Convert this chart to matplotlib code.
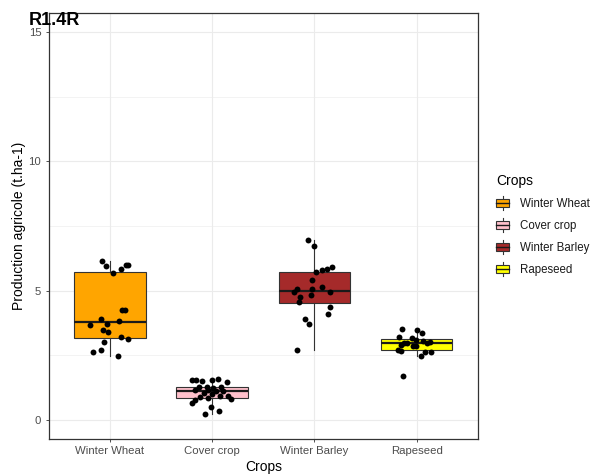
import matplotlib
matplotlib.use("Agg")
import matplotlib.pyplot as plt
from matplotlib.patches import Rectangle
from matplotlib.lines import Line2D
from matplotlib.legend_handler import HandlerBase
import numpy as np

plt.rcParams['font.family'] = ['Liberation Sans', 'DejaVu Sans']

categories = ["Winter Wheat", "Cover crop", "Winter Barley", "Rapeseed"]
colors = ["#FFA500", "#FFC0CB", "#A52A2A", "#FFFF00"]

wheat_values = [6.14, 5.97, 5.69, 5.85, 5.99, 5.99, 4.24, 4.24, 3.88, 3.81,
                3.67, 3.72, 3.48, 3.41, 3.19, 3.14, 3.01, 2.71, 2.61, 2.48]
wheat_jitter = [-0.08, -0.04, 0.03, 0.11, 0.16, 0.18, 0.12, 0.15, -0.09, 0.09,
                -0.19, -0.03, -0.07, -0.02, 0.11, 0.18, -0.06, -0.09, -0.16, 0.08]

cover_values = [1.55, 1.52, 1.48, 1.52, 1.59, 1.45, 1.28, 1.28, 1.25, 1.23,
                1.16, 1.16, 1.10, 1.10, 1.03, 0.99, 0.90, 0.90, 0.80, 0.88,
                0.84, 0.75, 0.65, 0.48, 0.35, 0.22]
cover_jitter = [-0.20, -0.16, -0.10, 0.00, 0.06, 0.15, -0.13, -0.05, 0.09, 0.01,
                -0.17, -0.04, 0.04, 0.11, -0.08, 0.00, 0.16, 0.08, 0.18, -0.12,
                -0.04, -0.17, -0.20, -0.01, 0.07, -0.07]

barley_values = [6.95, 6.74, 5.71, 5.79, 5.84, 5.92, 5.39, 5.07, 5.07, 5.14,
                 4.93, 4.93, 4.74, 4.83, 4.55, 4.35, 4.10, 3.88, 3.72, 2.71]
barley_jitter = [-0.06, 0.00, 0.02, 0.07, 0.12, 0.17, -0.02, -0.17, -0.02, 0.07,
                 -0.20, 0.15, -0.14, -0.03, -0.15, 0.15, 0.13, -0.09, -0.05, -0.17]

rape_values = [3.52, 3.49, 3.36, 3.21, 3.17, 3.10, 2.97, 2.91, 2.95, 3.04,
               2.97, 2.99, 2.84, 2.84, 2.69, 2.65, 2.61, 2.61, 2.48, 1.68]
rape_jitter = [-0.14, 0.00, 0.05, -0.17, -0.05, -0.01, -0.12, -0.15, -0.09, 0.06,
               0.10, 0.13, -0.04, -0.01, -0.18, -0.15, 0.08, 0.14, 0.04, -0.13]

all_values = [wheat_values, cover_values, barley_values, rape_values]
all_jitter = [wheat_jitter, cover_jitter, barley_jitter, rape_jitter]

y_ticks = [0, 5, 10, 15]

W, H = 593, 476
fig = plt.figure(figsize=(W / 100, H / 100), dpi=100)
ax = fig.add_axes([48.5 / W, 1 - 439 / H, (478 - 48.5) / W, (439 - 13) / H])

positions = np.arange(1, len(categories) + 1)
edge = "#333333"
bp = ax.boxplot(all_values, positions=positions, widths=0.7, patch_artist=True,
                showfliers=False, whis=1.5, zorder=2,
                boxprops=dict(edgecolor=edge, linewidth=0.8),
                whiskerprops=dict(color=edge, linewidth=0.8),
                capprops=dict(linewidth=0),
                medianprops=dict(color="#1a1a1a", linewidth=1.6))
for patch, c in zip(bp['boxes'], colors):
    patch.set_facecolor(c)

for pos, vals, jit in zip(positions, all_values, all_jitter):
    ax.scatter(pos + np.array(jit), vals, s=18, color="black", zorder=3, linewidths=0)

ax.set_xlim(0.4, len(categories) + 0.6)
ax.set_ylim(-0.75, 15.75)
ax.set_xticks(positions)
ax.set_xticklabels(categories)
ax.set_yticks(y_ticks)
ax.set_yticks([2.5, 7.5, 12.5], minor=True)
ax.grid(True, which='major', color="#EBEBEB", linewidth=0.8, zorder=0)
ax.grid(True, which='minor', axis='y', color="#EBEBEB", linewidth=0.4, zorder=0)
ax.set_axisbelow(True)
ax.tick_params(axis='both', which='major', length=2.2, width=0.6, color="#333333",
               labelcolor="#4D4D4D", labelsize=8.2, pad=3.0)
ax.tick_params(axis='y', which='minor', length=0)
for sp in ax.spines.values():
    sp.set_color("#333333")
    sp.set_linewidth(0.9)

fig.text(19 / W, 1 - 226 / H, "Production agricole (t.ha-1)", rotation=90,
         ha='center', va='center', fontsize=10)
fig.text((48.5 + 478) / 2 / W, 1 - 467 / H, "Crops", ha='center', va='center', fontsize=10)
fig.text(29 / W, 1 - 12 / H, "R1.4R", ha='left', va='top', fontsize=13, fontweight='bold')


class BoxHandler(HandlerBase):
    def create_artists(self, legend, orig_handle, xdescent, ydescent, width, height,
                       fontsize, trans):
        fc = orig_handle.get_facecolor()
        x0 = -xdescent
        y0 = -ydescent
        cx = x0 + width / 2
        wl = Line2D([cx, cx], [y0, y0 + height], color=edge, lw=0.8, transform=trans)
        rect = Rectangle((x0, y0 + height * 0.22), width, height * 0.56, facecolor=fc,
                         edgecolor=edge, lw=0.8, transform=trans)
        med = Line2D([x0, x0 + width], [y0 + height / 2] * 2, color="#1a1a1a", lw=1.0,
                     transform=trans)
        return [wl, rect, med]


handles = [Rectangle((0, 0), 1, 1, facecolor=c) for c in colors]
leg = fig.legend(handles, categories, loc='center left',
                 bbox_to_anchor=(496 / W, 1 - 225 / H), frameon=False,
                 title="Crops", title_fontsize=10, fontsize=8.3,
                 handler_map={Rectangle: BoxHandler()},
                 handlelength=1.15, handleheight=1.5, labelspacing=0.68,
                 handletextpad=0.9, borderpad=0, borderaxespad=0, alignment='left')
for t in leg.get_texts():
    t.set_color("#1a1a1a")

fig.savefig("out.png", dpi=100)
